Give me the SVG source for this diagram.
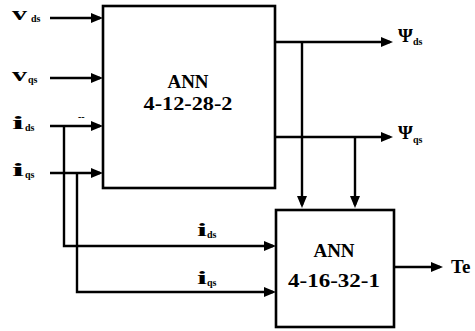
<svg xmlns="http://www.w3.org/2000/svg" width="475" height="331" viewBox="0 0 475 331">
<defs>
<style>
.box{fill:#fff;stroke:#000;stroke-width:2.6}
.ln{fill:none;stroke:#000;stroke-width:2.4;marker-end:url(#ah)}
.t{font-size:19px}
.m{font-size:19px}
.s{font-size:10px}
</style>
<marker id="ah" markerUnits="userSpaceOnUse" markerWidth="13" markerHeight="11" refX="9" refY="5" orient="auto">
<path d="M0,0 L12,5 L0,10 Z" fill="#000"/>
</marker>
</defs>
<rect width="475" height="331" fill="#fff"/>
<g id="connectors">
<path class="ln" d="M50,18 H100"/>
<path class="ln" d="M50,78 H100"/>
<path class="ln" d="M50,126 H100"/>
<path class="ln" d="M50,173 H100"/>
<path class="ln" d="M64,126 V246 H273"/>
<path class="ln" d="M77,173 V292 H273"/>
<path class="ln" d="M275,42 H390"/>
<path class="ln" d="M275,137 H390"/>
<path class="ln" d="M302,42 V205"/>
<path class="ln" d="M355,137 V205"/>
<path class="ln" d="M394,267 H440"/>
</g>
<g id="node-ann1" font-family="Liberation Serif, serif" font-weight="bold">
<rect class="box" x="103" y="6" width="172" height="182"/>
<text class="t" x="188" y="88" text-anchor="middle">ANN</text>
<text class="t" x="188" y="110" text-anchor="middle" textLength="89" lengthAdjust="spacingAndGlyphs">4-12-28-2</text>
</g>
<g id="node-ann2" font-family="Liberation Serif, serif" font-weight="bold">
<rect class="box" x="276" y="210" width="118" height="117"/>
<text class="t" x="334" y="257" text-anchor="middle">ANN</text>
<text class="t" x="334" y="287" text-anchor="middle" textLength="92" lengthAdjust="spacingAndGlyphs">4-16-32-1</text>
</g>
<g id="labels" font-family="Liberation Serif, serif" font-weight="bold">
<text x="12" y="20"><tspan class="m" textLength="15" lengthAdjust="spacingAndGlyphs">v</tspan><tspan class="s" x="31" y="22">ds</tspan></text>
<text x="12" y="81"><tspan class="m" textLength="15" lengthAdjust="spacingAndGlyphs">v</tspan><tspan class="s" x="28" y="83">qs</tspan></text>
<text x="12" y="129"><tspan class="m" textLength="12" lengthAdjust="spacingAndGlyphs">i</tspan><tspan class="s" x="25" y="131">ds</tspan></text>
<text x="12" y="176"><tspan class="m" textLength="12" lengthAdjust="spacingAndGlyphs">i</tspan><tspan class="s" x="25" y="178">qs</tspan></text>
<text x="78" y="120" class="s">--</text>
<text x="197" y="236"><tspan class="m" textLength="10" lengthAdjust="spacingAndGlyphs">i</tspan><tspan class="s" x="207" y="238">ds</tspan></text>
<text x="197" y="284"><tspan class="m" textLength="10" lengthAdjust="spacingAndGlyphs">i</tspan><tspan class="s" x="207" y="286">qs</tspan></text>
<text x="398" y="42"><tspan class="m">Ψ</tspan><tspan class="s" x="413" y="45">ds</tspan></text>
<text x="398" y="139"><tspan class="m">Ψ</tspan><tspan class="s" x="413" y="143">qs</tspan></text>
<text x="451" y="273" class="m">Te</text>
</g>
</svg>
